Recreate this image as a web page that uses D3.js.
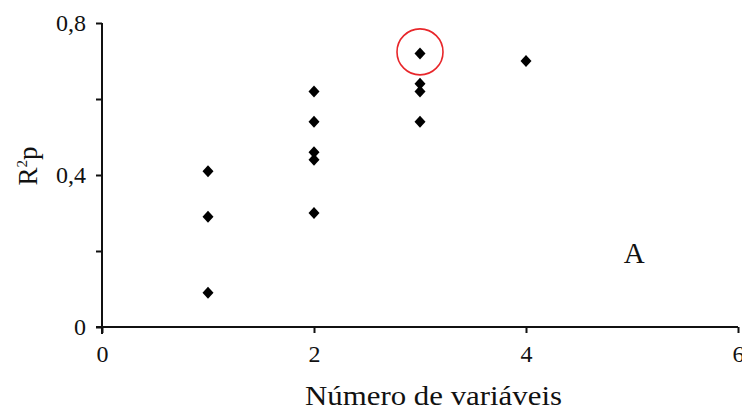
<!DOCTYPE html>
<html>
<head>
<meta charset="utf-8">
<script src="https://cdn.jsdelivr.net/npm/d3@7"></script>
<style>
  html, body { margin: 0; padding: 0; background: #fff; }
  svg text { font-family: "Liberation Serif", "Times New Roman", serif; fill: #111; }
</style>
</head>
<body>
<svg id="chart" width="742" height="412"></svg>
<script>
// Number of variables in each model and its predicted R²
const numVars = [1, 1, 1, 2, 2, 2, 2, 2, 3, 3, 3, 3, 4];
const r2p     = [0.41, 0.29, 0.09, 0.62, 0.54, 0.46, 0.44, 0.30, 0.72, 0.64, 0.62, 0.54, 0.70];
// Model singled out with a circle
const highlight = [3, 0.72];

const xTicks = [0, 2, 4, 6];
const yTicks = [0, 0.2, 0.4, 0.6, 0.8];
const yLabelled = [0, 0.4, 0.8];
const panelLabel = "A";

const svg = d3.select("#chart");
const x = d3.scaleLinear().domain([0, 6]).range([102, 738]);
const y = d3.scaleLinear().domain([0, 0.8]).range([327, 23]);

const fmt = v => String(v).replace(".", ",");

// y axis
const yAxis = svg.append("g")
  .attr("transform", `translate(${x(0)},0)`)
  .call(d3.axisLeft(y).tickValues(yTicks).tickSize(6).tickPadding(10)
    .tickFormat(v => yLabelled.includes(v) ? fmt(v) : ""));
yAxis.select(".domain").attr("d", `M0,${y(0.8)}V${y(0) + 7}`);

// x axis
const xAxis = svg.append("g")
  .attr("transform", `translate(0,${y(0)})`)
  .call(d3.axisBottom(x).tickValues(xTicks).tickSize(6).tickPadding(12).tickFormat(d3.format("d")));
xAxis.select(".domain").attr("d", `M${x(0) - 6},0H${x(6)}`);

svg.selectAll(".domain, .tick line").attr("stroke", "#111").attr("stroke-width", 2);
svg.selectAll(".tick text").attr("font-size", 24).attr("fill", "#111")
  .style("font-family", "'Liberation Serif', serif");

// axis titles
svg.append("text")
  .attr("x", 305).attr("y", 405)
  .attr("font-size", 27)
  .attr("textLength", 257).attr("lengthAdjust", "spacingAndGlyphs")
  .text("Número de variáveis");

const yTitle = svg.append("text")
  .attr("transform", `translate(37,166) rotate(-90)`)
  .attr("text-anchor", "middle").attr("font-size", 27);
yTitle.append("tspan").text("R");
yTitle.append("tspan").attr("font-size", 15).attr("dy", -10).text("2");
yTitle.append("tspan").attr("dy", 10).text("p");

// diamond markers
const diamond = "M0,-6L5.5,0L0,6L-5.5,0Z";
svg.append("g").selectAll("path")
  .data(numVars.map((v, i) => [v, r2p[i]]))
  .join("path")
  .attr("d", diamond)
  .attr("transform", d => `translate(${x(d[0])},${y(d[1])})`)
  .attr("fill", "#000");

// circle around the chosen model
svg.append("circle")
  .attr("cx", x(highlight[0])).attr("cy", y(highlight[1]) - 1.5)
  .attr("r", 23)
  .attr("fill", "none").attr("stroke", "#e8262a").attr("stroke-width", 1.6);

// panel letter
svg.append("text")
  .attr("x", x(5.02)).attr("y", y(0.168))
  .attr("text-anchor", "middle").attr("font-size", 29)
  .text(panelLabel);
</script>
</body>
</html>
